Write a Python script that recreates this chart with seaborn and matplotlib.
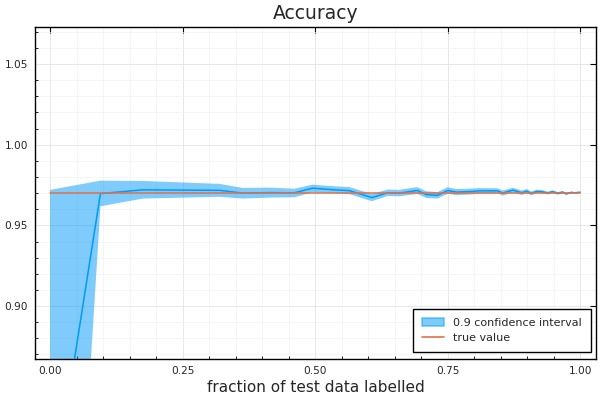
import numpy as np
import pandas as pd
import matplotlib
matplotlib.use("Agg")
import matplotlib.pyplot as plt
from matplotlib.patches import Patch
from matplotlib.lines import Line2D
from matplotlib.ticker import MultipleLocator, FormatStrFormatter
import seaborn as sns

# fraction of test data labelled
frac = [0.0, 0.095, 0.175, 0.32, 0.363, 0.414, 0.461, 0.495, 0.537, 0.565,
        0.607, 0.637, 0.659, 0.693, 0.71, 0.731, 0.75, 0.767, 0.797, 0.81,
        0.844, 0.854, 0.873, 0.89, 0.899, 0.908, 0.918, 0.929, 0.939, 0.948,
        0.958, 0.967, 0.974, 0.983, 0.99, 1.0]
# estimated accuracy
estimate = [0.771, 0.9697, 0.9720, 0.9717, 0.9700, 0.9703, 0.9702, 0.9730, 0.9720, 0.9715,
            0.9672, 0.9702, 0.9700, 0.9716, 0.9690, 0.9686, 0.9716, 0.9706, 0.9710, 0.9714,
            0.9714, 0.9700, 0.9718, 0.9702, 0.9712, 0.9698, 0.9710, 0.9708, 0.9700, 0.9709,
            0.9698, 0.9706, 0.9695, 0.9704, 0.9702, 0.9705]
ci_upper = [0.9720, 0.9777, 0.9775, 0.9757, 0.9732, 0.9734, 0.9727, 0.9752, 0.9742, 0.9737,
            0.9694, 0.9722, 0.9720, 0.9737, 0.9711, 0.9706, 0.9736, 0.9725, 0.9728, 0.9731,
            0.9730, 0.9716, 0.9733, 0.9716, 0.9725, 0.9710, 0.9721, 0.9718, 0.9709, 0.9717,
            0.9706, 0.9713, 0.9701, 0.9709, 0.9706, 0.9708]
ci_lower = [0.4600, 0.9618, 0.9666, 0.9677, 0.9666, 0.9672, 0.9674, 0.9705, 0.9698, 0.9693,
            0.9650, 0.9682, 0.9680, 0.9695, 0.9669, 0.9666, 0.9696, 0.9687, 0.9692, 0.9697,
            0.9698, 0.9684, 0.9703, 0.9688, 0.9699, 0.9686, 0.9699, 0.9698, 0.9691, 0.9701,
            0.9690, 0.9699, 0.9689, 0.9699, 0.9698, 0.9702]
true_value = 0.9700

df = pd.DataFrame({"frac": frac, "estimate": estimate,
                   "lower": ci_lower, "upper": ci_upper})
df["true"] = true_value

blue = "#009AFA"
orange = "#E36F47"

sns.set_style("white")
plt.rcParams["font.family"] = ["DejaVu Sans"]

fig = plt.figure(figsize=(6, 4), dpi=100)
ax = fig.add_axes([35 / 600, 1 - 359 / 400, 561 / 600, 332 / 400])

ax.fill_between(df["frac"], df["lower"], df["upper"], color=blue, alpha=0.5,
                linewidth=0, zorder=2)
sns.lineplot(data=df, x="frac", y="estimate", ax=ax, color=blue, linewidth=1.1,
             zorder=3, legend=False)
sns.lineplot(data=df, x="frac", y="true", ax=ax, color=orange, linewidth=1.1,
             zorder=4, legend=False)

ax.set_xlim(-0.0285, 1.030)
ax.set_ylim(0.8672, 1.0729)

ax.xaxis.set_major_locator(MultipleLocator(0.25))
ax.xaxis.set_minor_locator(MultipleLocator(0.05))
ax.yaxis.set_major_locator(MultipleLocator(0.05))
ax.yaxis.set_minor_locator(MultipleLocator(0.01))
ax.xaxis.set_major_formatter(FormatStrFormatter("%.2f"))
ax.yaxis.set_major_formatter(FormatStrFormatter("%.2f"))

ax.grid(which="major", color="#e3e3e3", linewidth=0.6, zorder=0)
ax.grid(which="minor", color="#f1f1f1", linewidth=0.5, zorder=0)
ax.set_axisbelow(True)

ax.tick_params(which="major", direction="in", length=4, width=0.8,
               labelsize=7.6, pad=5, top=True, right=True, color="black")
ax.tick_params(which="minor", direction="in", length=2.5, width=0.6,
               bottom=True, left=True, color="black")
for s in ax.spines.values():
    s.set_color("black")
    s.set_linewidth(1.0)

ax.set_title("Accuracy", fontsize=13.5, pad=6)
ax.set_xlabel("fraction of test data labelled", fontsize=11, labelpad=3)
ax.set_ylabel("")

handles = [Patch(facecolor=blue, alpha=0.5, edgecolor=blue, linewidth=1.2),
           Line2D([0], [0], color=orange, linewidth=1.2)]
leg = ax.legend(handles, ["0.9 confidence interval", "true value"],
                loc="lower right", bbox_to_anchor=(0.991, 0.021), fontsize=8,
                fancybox=False, framealpha=1, edgecolor="black",
                handlelength=2.0, borderpad=0.8, borderaxespad=0)
leg.get_frame().set_linewidth(1.0)

fig.savefig("out.png", dpi=100)
